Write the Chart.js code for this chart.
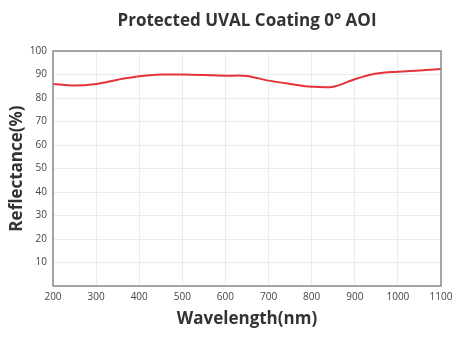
<!DOCTYPE html>
<html>
<head>
<meta charset="utf-8">
<title>Protected UVAL Coating 0° AOI</title>
<script src="https://cdn.jsdelivr.net/npm/chart.js@4"></script>
<style>
    body { margin: 0; background: #fff; }
    #wrap { width: 468px; height: 349px; }
</style>
</head>
<body>
<div id="wrap"><canvas id="reflectanceChart" width="468" height="349"></canvas></div>
<script>
// Data
const wavelengths = [200, 250, 300, 350, 400, 450, 500, 550, 600, 650, 700, 750, 800, 850, 900, 950, 1000, 1050, 1100];
const reflectance = [86.0, 85.3, 86.0, 87.8, 89.3, 90.0, 90.0, 89.8, 89.5, 89.4, 87.4, 86.0, 84.8, 84.8, 88.0, 90.4, 91.2, 91.7, 92.3];
const xTickRange = [200, 1100];
const yTickRange = [0, 100];

// Frame around plot area
const frame = {
    id: 'frame',
    afterDraw(chart) {
        const { ctx, chartArea: a } = chart;
        ctx.save();
        ctx.strokeStyle = '#8a8a8a';
        ctx.lineWidth = 1.5;
        ctx.strokeRect(a.left, a.top, a.right - a.left, a.bottom - a.top);
        ctx.restore();
    }
};

function initChart() {
    const ctx = document.getElementById('reflectanceChart').getContext('2d');
    new Chart(ctx, {
        type: 'line',
        data: {
            datasets: [{
                data: wavelengths.map((w, i) => ({ x: w, y: reflectance[i] })),
                borderColor: '#e5323b',
                borderWidth: 2,
                pointRadius: 0,
                tension: 0.3,
                fill: false
            }]
        },
        options: {
            responsive: false,
            animation: false,
            layout: { padding: { left: 0, right: 27, top: 0, bottom: 0 } },
            plugins: {
                legend: { display: false },
                tooltip: { enabled: false },
                title: {
                    display: true,
                    fullSize: false,
                    text: 'Protected UVAL Coating 0° AOI',
                    color: '#333',
                    font: { family: 'Open Sans', size: 17, weight: 'bold', lineHeight: 1.2 },
                    padding: { top: 11, bottom: 19.6 }
                }
            },
            scales: {
                x: {
                    type: 'linear',
                    min: xTickRange[0],
                    max: xTickRange[1],
                    ticks: {
                        stepSize: 100,
                        padding: 5,
                        color: '#444',
                        font: { family: 'Open Sans', size: 10 },
                        maxRotation: 0,
                        callback: v => String(v)
                    },
                    grid: { color: '#ebebeb', drawTicks: false },
                    border: { display: false },
                    title: {
                        display: true,
                        text: 'Wavelength(nm)',
                        color: '#333',
                        font: { family: 'Open Sans', size: 17, weight: 'bold', lineHeight: 1.2 },
                        padding: { top: 4, bottom: 20 }
                    },
                    afterFit(scale) { scale.height = 63; }
                },
                y: {
                    min: yTickRange[0],
                    max: yTickRange[1],
                    ticks: {
                        stepSize: 10,
                        padding: 6,
                        color: '#444',
                        font: { family: 'Open Sans', size: 10 },
                        callback: v => (v === 0 ? '' : String(v))
                    },
                    grid: { color: '#ebebeb', drawTicks: false },
                    border: { display: false },
                    title: {
                        display: true,
                        text: 'Reflectance(%)',
                        color: '#333',
                        font: { family: 'Open Sans', size: 17, weight: 'bold', lineHeight: 1.2 },
                        padding: { top: 7, bottom: 4 }
                    },
                    afterFit(scale) { scale.width = 53; }
                }
            }
        },
        plugins: [frame]
    });
}

document.addEventListener('DOMContentLoaded', function () {
    initChart();
});
</script>
</body>
</html>
